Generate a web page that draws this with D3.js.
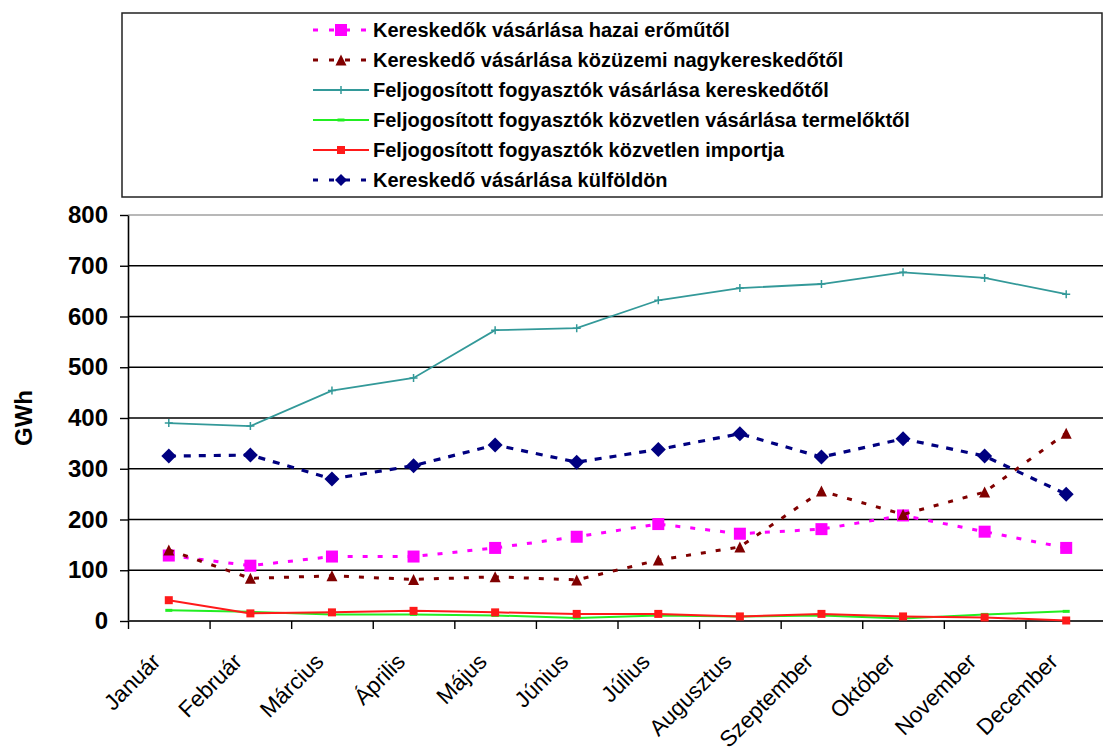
<!DOCTYPE html>
<html>
<head>
<meta charset="utf-8">
<script src="https://cdn.jsdelivr.net/npm/d3@7"></script>
<style>
  body { margin: 0; background: #fff; }
  svg { display: block; font-family: Arial, "Liberation Sans", sans-serif; }
</style>
</head>
<body>
<div id="chart"></div>
<script>
/* DATA */
const months = ["Január", "Február", "Március", "Április", "Május", "Június",
  "Július", "Augusztus", "Szeptember", "Október", "November", "December"];

const hazaiEromu = [129, 109, 127, 127, 144, 166, 191, 172, 181, 208, 176, 144];
const kozuzemi = [140, 84, 89, 82, 87, 81, 120, 146, 256, 210, 254, 370];
const kereskedotol = [390, 384, 454, 479, 573, 577, 632, 656, 664, 687, 676, 644];
const termelotol = [21, 18, 13, 13, 11, 6, 11, 9, 11, 5, 13, 19];
const importja = [41, 15, 17, 20, 17, 14, 14, 9, 14, 9, 7, 1];
const kulfoldon = [325, 327, 280, 306, 347, 313, 338, 369, 323, 359, 325, 250];

const seriesNames = [
  "Kereskedők vásárlása hazai erőműtől",
  "Kereskedő vásárlása közüzemi nagykereskedőtől",
  "Feljogosított fogyasztók vásárlása kereskedőtől",
  "Feljogosított fogyasztók közvetlen vásárlása termelőktől",
  "Feljogosított fogyasztók közvetlen importja",
  "Kereskedő vásárlása külföldön"
];

const yTicks = [0, 100, 200, 300, 400, 500, 600, 700, 800];

/* CONSTANTS */
const width = 1103,
  height = 749;

// series styling (order = drawing order)
const series = [
  { name: seriesNames[0], values: hazaiEromu, color: "#ff00ff", dash: "5,10", lw: 3, marker: "square", size: 12 },
  { name: seriesNames[1], values: kozuzemi, color: "#800000", dash: "5,10", lw: 3, marker: "triangle", size: 11 },
  { name: seriesNames[2], values: kereskedotol, color: "#339999", dash: null, lw: 1.8, marker: "plus", size: 8 },
  { name: seriesNames[3], values: termelotol, color: "#22ee22", dash: null, lw: 2, marker: "dash", size: 7 },
  { name: seriesNames[4], values: importja, color: "#ff1a1a", dash: null, lw: 2, marker: "square", size: 8 },
  { name: seriesNames[5], values: kulfoldon, color: "#000080", dash: "7,8", lw: 3.2, marker: "diamond", size: 15 }
];

const svg = d3.select("#chart")
  .append("svg")
  .attr("width", width)
  .attr("height", height);

// category index -> x (plot area runs a little past the right edge of the picture)
const xScale = d3.scaleLinear()
  .domain([-0.5, 11.5])
  .range([128, 1107]);

const yScale = d3.scaleLinear()
  .domain([0, 800])
  .range([621, 215]);

const plotRight = xScale(11.5);

/* GRIDLINES */
svg.append("g")
  .selectAll("line")
  .data(yTicks.filter(d => d > 0))
  .join("line")
  .attr("x1", xScale(-0.5))
  .attr("x2", plotRight)
  .attr("y1", d => yScale(d))
  .attr("y2", d => yScale(d))
  .attr("stroke", d => d === 800 ? "#a0a0a0" : "#000")
  .attr("stroke-width", d => d === 800 ? 1.5 : 1.6);

/* AXES */
const yAxis = d3.axisLeft(yScale)
  .tickValues(yTicks)
  .tickSize(8)
  .tickSizeOuter(0)
  .tickPadding(12);

svg.append("g")
  .attr("class", "axis y-axis")
  .attr("transform", `translate(${xScale(-0.5)},0)`)
  .call(yAxis)
  .call(g => g.select(".domain").attr("stroke", "#000").attr("stroke-width", 1.6))
  .call(g => g.selectAll(".tick line").attr("stroke", "#000").attr("stroke-width", 1.4))
  .call(g => g.selectAll(".tick text")
    .attr("fill", "#000")
    .attr("font-size", 24)
    .attr("font-weight", "bold")
    .attr("font-family", "Arial, 'Liberation Sans', sans-serif"));

const xAxis = d3.axisBottom(xScale)
  .tickValues(d3.range(-0.5, 12, 1))
  .tickSize(8)
  .tickSizeOuter(0)
  .tickFormat("");

svg.append("g")
  .attr("class", "axis x-axis")
  .attr("transform", `translate(0,${yScale(0)})`)
  .call(xAxis)
  .call(g => g.select(".domain").attr("d", `M${xScale(-0.5)},0H${plotRight}`)
    .attr("stroke", "#333").attr("stroke-width", 2))
  .call(g => g.selectAll(".tick line").attr("stroke", "#000").attr("stroke-width", 1.4));

// rotated month labels
svg.append("g")
  .selectAll("text")
  .data(months)
  .join("text")
  .attr("transform", (d, i) => `translate(${xScale(i) - 7},${yScale(0) + 42}) rotate(-45)`)
  .attr("text-anchor", "end")
  .attr("font-size", 22.5)
  .attr("fill", "#000")
  .text(d => d);

// y axis title
svg.append("text")
  .attr("transform", `translate(23,${(yScale(0) + yScale(800)) / 2}) rotate(-90)`)
  .attr("text-anchor", "middle")
  .attr("dominant-baseline", "central")
  .attr("font-size", 24)
  .attr("font-weight", "bold")
  .attr("fill", "#000")
  .text("GWh");

/* MARKERS */
function drawMarker(sel, s) {
  const k = s.size;
  if (s.marker === "square") {
    sel.append("rect")
      .attr("x", -k / 2).attr("y", -k / 2)
      .attr("width", k).attr("height", k)
      .attr("fill", s.color);
  } else if (s.marker === "diamond") {
    sel.append("path")
      .attr("d", `M0,${-k / 2}L${k / 2},0L0,${k / 2}L${-k / 2},0Z`)
      .attr("fill", s.color);
  } else if (s.marker === "triangle") {
    sel.append("path")
      .attr("d", `M0,${-k / 2}L${k / 2},${k / 2}L${-k / 2},${k / 2}Z`)
      .attr("fill", s.color);
  } else if (s.marker === "plus") {
    sel.append("path")
      .attr("d", `M${-k / 2},0H${k / 2}M0,${-k / 2}V${k / 2}`)
      .attr("stroke", s.color)
      .attr("stroke-width", 1.5);
  } else if (s.marker === "dash") {
    sel.append("path")
      .attr("d", `M${-k / 2},0H${k / 2}`)
      .attr("stroke", s.color)
      .attr("stroke-width", 3);
  }
}

/* LINES */
const line = d3.line()
  .x((d, i) => xScale(i))
  .y(d => yScale(d));

series.forEach(s => {
  const g = svg.append("g").attr("class", "series");
  g.append("path")
    .datum(s.values)
    .attr("d", line)
    .attr("fill", "none")
    .attr("stroke", s.color)
    .attr("stroke-width", s.lw)
    .attr("stroke-dasharray", s.dash);

  g.selectAll("g.pt")
    .data(s.values)
    .join("g")
    .attr("class", "pt")
    .attr("transform", (d, i) => `translate(${xScale(i)},${yScale(d)})`)
    .each(function () { drawMarker(d3.select(this), s); });
});

/* LEGEND */
const legend = svg.append("g").attr("class", "legend");

legend.append("rect")
  .attr("x", 122)
  .attr("y", 13)
  .attr("width", 980)
  .attr("height", 184)
  .attr("fill", "#fff")
  .attr("stroke", "#222")
  .attr("stroke-width", 1.5);

const legendRow = d3.scaleLinear().domain([0, 5]).range([30, 180]);

series.forEach((s, i) => {
  const row = legend.append("g")
    .attr("transform", `translate(0,${legendRow(i)})`);

  row.append("line")
    .attr("x1", 313)
    .attr("x2", 369)
    .attr("stroke", s.color)
    .attr("stroke-width", s.dash ? 3 : 2)
    .attr("stroke-dasharray", s.dash ? "5,11" : null);

  const m = row.append("g").attr("transform", "translate(341,0)");
  drawMarker(m, Object.assign({}, s, { size: s.marker === "plus" ? 8 : Math.min(s.size, 12) }));

  row.append("text")
    .attr("x", 373)
    .attr("dy", "0.36em")
    .attr("font-size", 20)
    .attr("font-weight", "bold")
    .attr("fill", "#000")
    .text(s.name);
});
</script>
</body>
</html>
